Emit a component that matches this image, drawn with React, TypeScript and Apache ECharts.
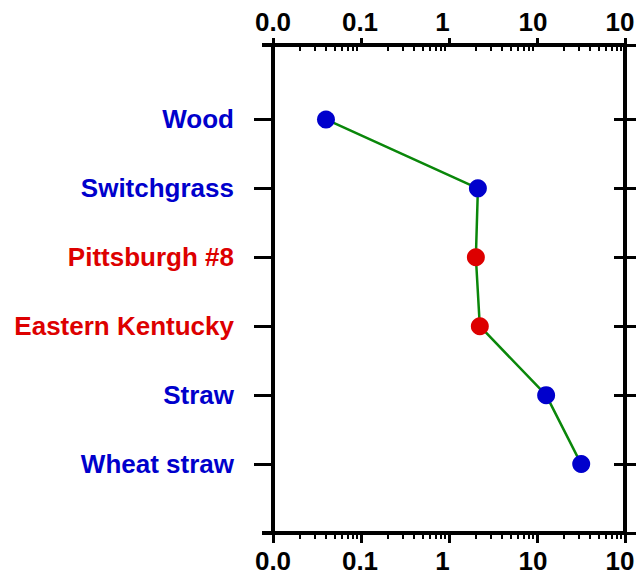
import React, { useEffect, useRef } from "react";
import * as echarts from "echarts";

const categories = ["Wood", "Switchgrass", "Pittsburgh #8", "Eastern Kentucky", "Straw", "Wheat straw"];
const values = [0.040, 2.13, 2.02, 2.24, 12.7, 31.8];
const fuelTypes = ["biomass", "biomass", "coal", "coal", "biomass", "biomass"];
const xTickLabels = ["0.0", "0.1", "1", "10", "10"];
const decades = [0.01, 0.1, 1, 10];
const minorMultipliers = [2, 3, 4, 5, 6, 7, 8, 9];

const X_MIN = 0.01;
const X_MAX = 100;
const Y_MIN = -1.08;
const Y_MAX = 6;
const FONT = "Liberation Sans";
const FONT_SIZE = 26;
const COLORS: Record<string, string> = { biomass: "#0000CC", coal: "#DD0000" };
const catIdx = categories.map((_, i) => i);
// horizontal shift of each x tick label (right padding)
const labelPad = [0, 2, 13, 8, 10];
// minor tick positions expressed in log10 space for a linear helper axis
const minorLogTicks: number[] = [];
decades.forEach((d) => minorMultipliers.forEach((m) => minorLogTicks.push(Math.log10(d * m))));

export default function App() {
  const ref = useRef<HTMLDivElement>(null);
  useEffect(() => {
    if (!ref.current) return;
    const chart = echarts.init(ref.current, null, { renderer: "svg" });
    const rich: Record<string, any> = {};
    labelPad.forEach((p, i) => {
      rich["p" + i] = {
        fontFamily: FONT,
        fontWeight: "bold",
        fontSize: FONT_SIZE,
        color: "#000",
        padding: [0, p, 0, 0],
      };
    });
    const xFmt = (v: any) => {
      const i = Math.round(Math.log10(Number(v))) + 2;
      return `{p${i}|${xTickLabels[i] ?? ""}}`;
    };
    const xBase = {
      type: "log",
      logBase: 10,
      min: X_MIN,
      max: X_MAX,
      splitLine: { show: false },
    };
    const minorBase = {
      type: "value",
      min: Math.log10(X_MIN),
      max: Math.log10(X_MAX),
      splitLine: { show: false },
      axisLine: { show: false, onZero: false },
      axisLabel: { show: false },
    };
    const yBase = {
      type: "value",
      inverse: true,
      min: Y_MIN,
      max: Y_MAX,
      splitLine: { show: false },
    };
    const option: any = {
      animation: false,
      grid: { left: 273, right: 12, top: 45, bottom: 47, outerBoundsMode: "none", containLabel: false },
      xAxis: [
        {
          ...xBase,
          position: "bottom",
          axisLine: { show: true, onZero: false, lineStyle: { color: "#000", width: 4 } },
          axisTick: { show: true, length: 10, lineStyle: { color: "#000", width: 3 } },
          axisLabel: { show: true, formatter: xFmt, rich, margin: 15 },
        },
        {
          ...xBase,
          position: "top",
          axisLine: { show: true, onZero: false, lineStyle: { color: "#000", width: 4 } },
          axisTick: { show: true, length: 7, lineStyle: { color: "#000", width: 3 } },
          axisLabel: { show: true, formatter: xFmt, rich, margin: 10 },
        },
        {
          ...minorBase,
          position: "bottom",
          axisTick: { show: true, length: 6, customValues: minorLogTicks, lineStyle: { color: "#000", width: 2 } },
        },
        {
          ...minorBase,
          position: "top",
          axisTick: { show: true, inside: true, length: 6, customValues: minorLogTicks, lineStyle: { color: "#000", width: 2 } },
        },
      ],
      yAxis: [
        {
          ...yBase,
          position: "left",
          axisLine: { show: true, onZero: false, lineStyle: { color: "#000", width: 4 } },
          axisTick: { show: true, length: 19, customValues: catIdx, lineStyle: { color: "#000", width: 3 } },
          axisLabel: {
            show: true,
            customValues: catIdx,
            formatter: (v: any) => categories[Math.round(Number(v))] ?? "",
            color: (v: any) => COLORS[fuelTypes[Math.round(Number(v))]] ?? "#000",
            fontFamily: FONT,
            fontWeight: "bold",
            fontSize: FONT_SIZE,
            margin: 39,
          },
        },
        {
          ...yBase,
          position: "left",
          axisLine: { show: false, onZero: false },
          axisTick: { show: true, length: 11, customValues: [Y_MIN, Y_MAX], lineStyle: { color: "#000", width: 4 } },
          axisLabel: { show: false },
        },
        {
          ...yBase,
          position: "right",
          axisLine: { show: true, onZero: false, lineStyle: { color: "#000", width: 4 } },
          axisTick: { show: true, length: 11, customValues: [Y_MIN, ...catIdx, Y_MAX], lineStyle: { color: "#000", width: 3 } },
          axisLabel: { show: false },
        },
        {
          ...yBase,
          position: "right",
          axisLine: { show: false, onZero: false },
          axisTick: { show: true, inside: true, length: 11, customValues: catIdx, lineStyle: { color: "#000", width: 3 } },
          axisLabel: { show: false },
        },
      ],
      series: [
        {
          type: "line",
          xAxisIndex: 0,
          yAxisIndex: 0,
          data: values.map((v, i) => ({
            value: [v, i],
            itemStyle: { color: COLORS[fuelTypes[i]] },
          })),
          symbol: "circle",
          symbolSize: 18,
          lineStyle: { color: "#0A870A", width: 2.5 },
          itemStyle: { borderWidth: 0 },
          z: 5,
        },
      ],
    };
    chart.setOption(option);
    return () => chart.dispose();
  }, []);
  return (
    <div
      ref={ref}
      style={{ position: "fixed", left: 0, top: 0, width: 637, height: 580, background: "#fff" }}
    />
  );
}
